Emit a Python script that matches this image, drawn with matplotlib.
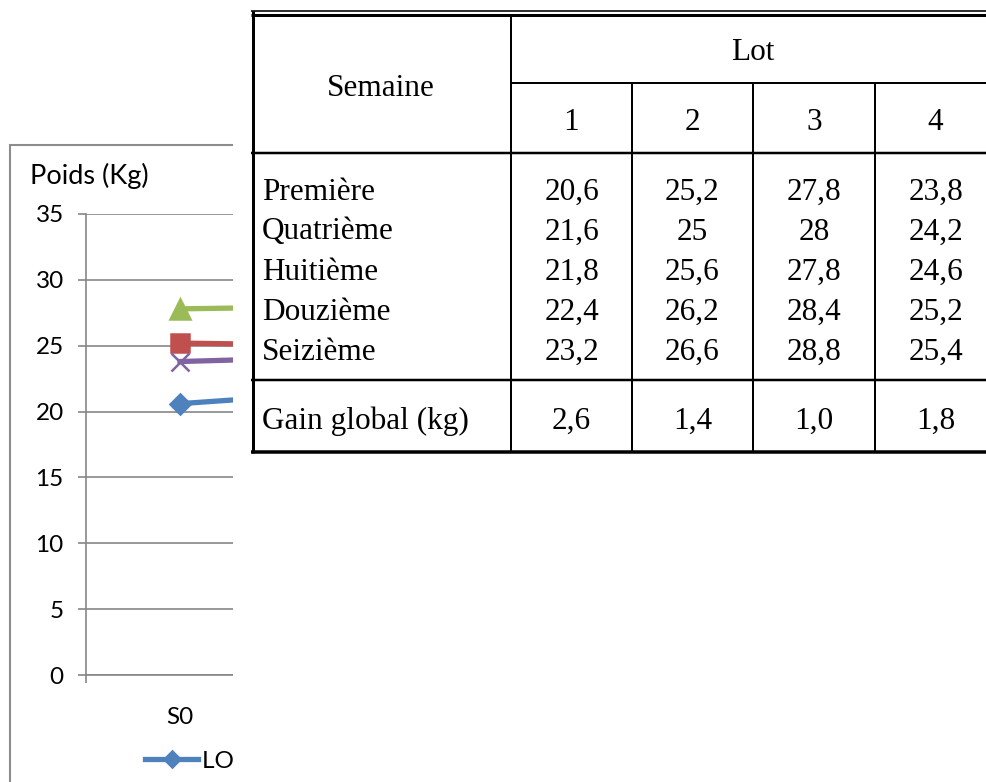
import numpy as np
import matplotlib.pyplot as plt
from matplotlib.patches import Rectangle

# poids moyens par lot (kg) aux semaines de pesée
semaines = ["S0", "S4", "S8", "S12", "S16"]
lot1 = [20.6, 21.6, 21.8, 22.4, 23.2]
lot2 = [25.2, 25.0, 25.6, 26.2, 26.6]
lot3 = [27.8, 28.0, 27.8, 28.4, 28.8]
lot4 = [23.8, 24.2, 24.6, 25.2, 25.4]
noms_lots = ["LOT 1", "LOT 2", "LOT 3", "LOT 4"]

# tableau récapitulatif
lignes = ["Première", "Quatrième", "Huitième", "Douzième", "Seizième"]
num_lots = ["1", "2", "3", "4"]
gains = [2.6, 1.4, 1.0, 1.8]

W, H = 986, 782
fig = plt.figure(figsize=(W / 100, H / 100), dpi=100)
gris = "#868686"
police = ["Lato", "DejaVu Sans"]
fs_axe = 17.5

# ---- graphique ----
ax = fig.add_axes([86 / W, 1 - 675 / H, 940 / W, 461 / H])
ax.patch.set_alpha(0)
x = np.arange(len(semaines))
styles = [("#4F81BD", "D", 10, lot1), ("#C0504D", "s", 13, lot2),
          ("#9BBB59", "^", 14, lot3), ("#8064A2", "x", 13, lot4)]
for (c, m, ms, y), nom in zip(styles, noms_lots):
    ax.plot(x, y, color=c, lw=3.8, marker=m, ms=ms, mew=1.8,
            mec=c, mfc=c, label=nom, zorder=3)
ax.set_xlim(-0.5, len(semaines) - 0.5)
ax.set_ylim(0, 35)
ax.set_yticks(np.arange(0, 36, 5))
ax.set_xticks(x)
ax.set_xticklabels(semaines, fontsize=fs_axe, family=police)
ax.set_xticks(np.arange(-0.5, len(semaines)), minor=True)
ax.grid(axis="y", color=gris, lw=1.2)
for s in ["top", "right"]:
    ax.spines[s].set_visible(False)
for s in ["left", "bottom"]:
    ax.spines[s].set_color(gris)
    ax.spines[s].set_linewidth(1.2)
ax.tick_params(axis="y", length=6, width=1.2, color=gris, pad=10, labelsize=fs_axe)
ax.tick_params(axis="x", which="major", length=0, pad=23)
ax.tick_params(axis="x", which="minor", length=6, width=1.2, color=gris)
for t in ax.get_yticklabels():
    t.set_family(police)
ax.legend(loc="center left", bbox_to_anchor=(145 / W, 1 - 761 / H),
          bbox_transform=fig.transFigure, ncol=4, frameon=False,
          borderpad=0, borderaxespad=0, handlelength=2.2, handletextpad=0.15,
          columnspacing=1.5, markerscale=0.8,
          prop={"family": police, "size": fs_axe})

fig.text(30 / W, 1 - 176 / H, "Poids (Kg)", ha="left", va="center",
         fontsize=19.5, family=police)
fig.add_artist(Rectangle((10 / W, -0.1), 1, 1.1 - 145 / H, fill=False,
                         ec="#8c8c8c", lw=1.5, transform=fig.transFigure))

# ---- tableau par-dessus ----
ov = fig.add_axes([0, 0, 1, 1], zorder=10)
ov.set_xlim(0, W)
ov.set_ylim(H, 0)
ov.axis("off")
ov.add_patch(Rectangle((233, 0), W - 233, H, fc="white", ec="none"))

def trait(x0, x1, y0, y1, px):
    ov.plot([x0, x1], [y0, y1], color="black", lw=px * 0.72,
            solid_capstyle="butt")

bords = [511, 632, 753, 875, 996]
trait(251, 1000, 11, 11, 1.6)
trait(251, 1000, 14.5, 14.5, 3)
trait(252.5, 252.5, 11, 453, 3)
trait(511, 1000, 83, 83, 2)
trait(251, 1000, 153, 153, 2.5)
trait(251, 1000, 380, 380, 2.5)
trait(251, 1000, 451.5, 451.5, 3.5)
trait(511, 511, 14, 452, 2)
for b in bords[1:-1]:
    trait(b, b, 83, 452, 2)

serif = "Liberation Serif"
fs = 22.5
dy = 3
centres = [(a + b) / 2 for a, b in zip(bords[:-1], bords[1:])]
ov.text(381, 85 + dy, "Semaine", ha="center", va="center", family=serif, fontsize=fs)
ov.text(753, 50 + dy, "Lot", ha="center", va="center", family=serif, fontsize=fs)
for cx, n in zip(centres, num_lots):
    ov.text(cx, 120 + dy, n, ha="center", va="center", family=serif, fontsize=fs)

donnees = [lot1, lot2, lot3, lot4]
for i, nom in enumerate(lignes):
    yy = 189 + 40 * i + dy
    ov.text(262, yy, nom, ha="left", va="center", family=serif, fontsize=fs)
    for cx, serie in zip(centres, donnees):
        ov.text(cx, yy, f"{serie[i]:g}".replace(".", ","), ha="center",
                va="center", family=serif, fontsize=fs)

ov.text(262, 418 + dy, "Gain global (kg)", ha="left", va="center", family=serif, fontsize=fs)
for cx, g in zip(centres, gains):
    ov.text(cx, 418 + dy, f"{g:.1f}".replace(".", ","), ha="center", va="center",
            family=serif, fontsize=fs)

plt.savefig("out.png", dpi=100)
